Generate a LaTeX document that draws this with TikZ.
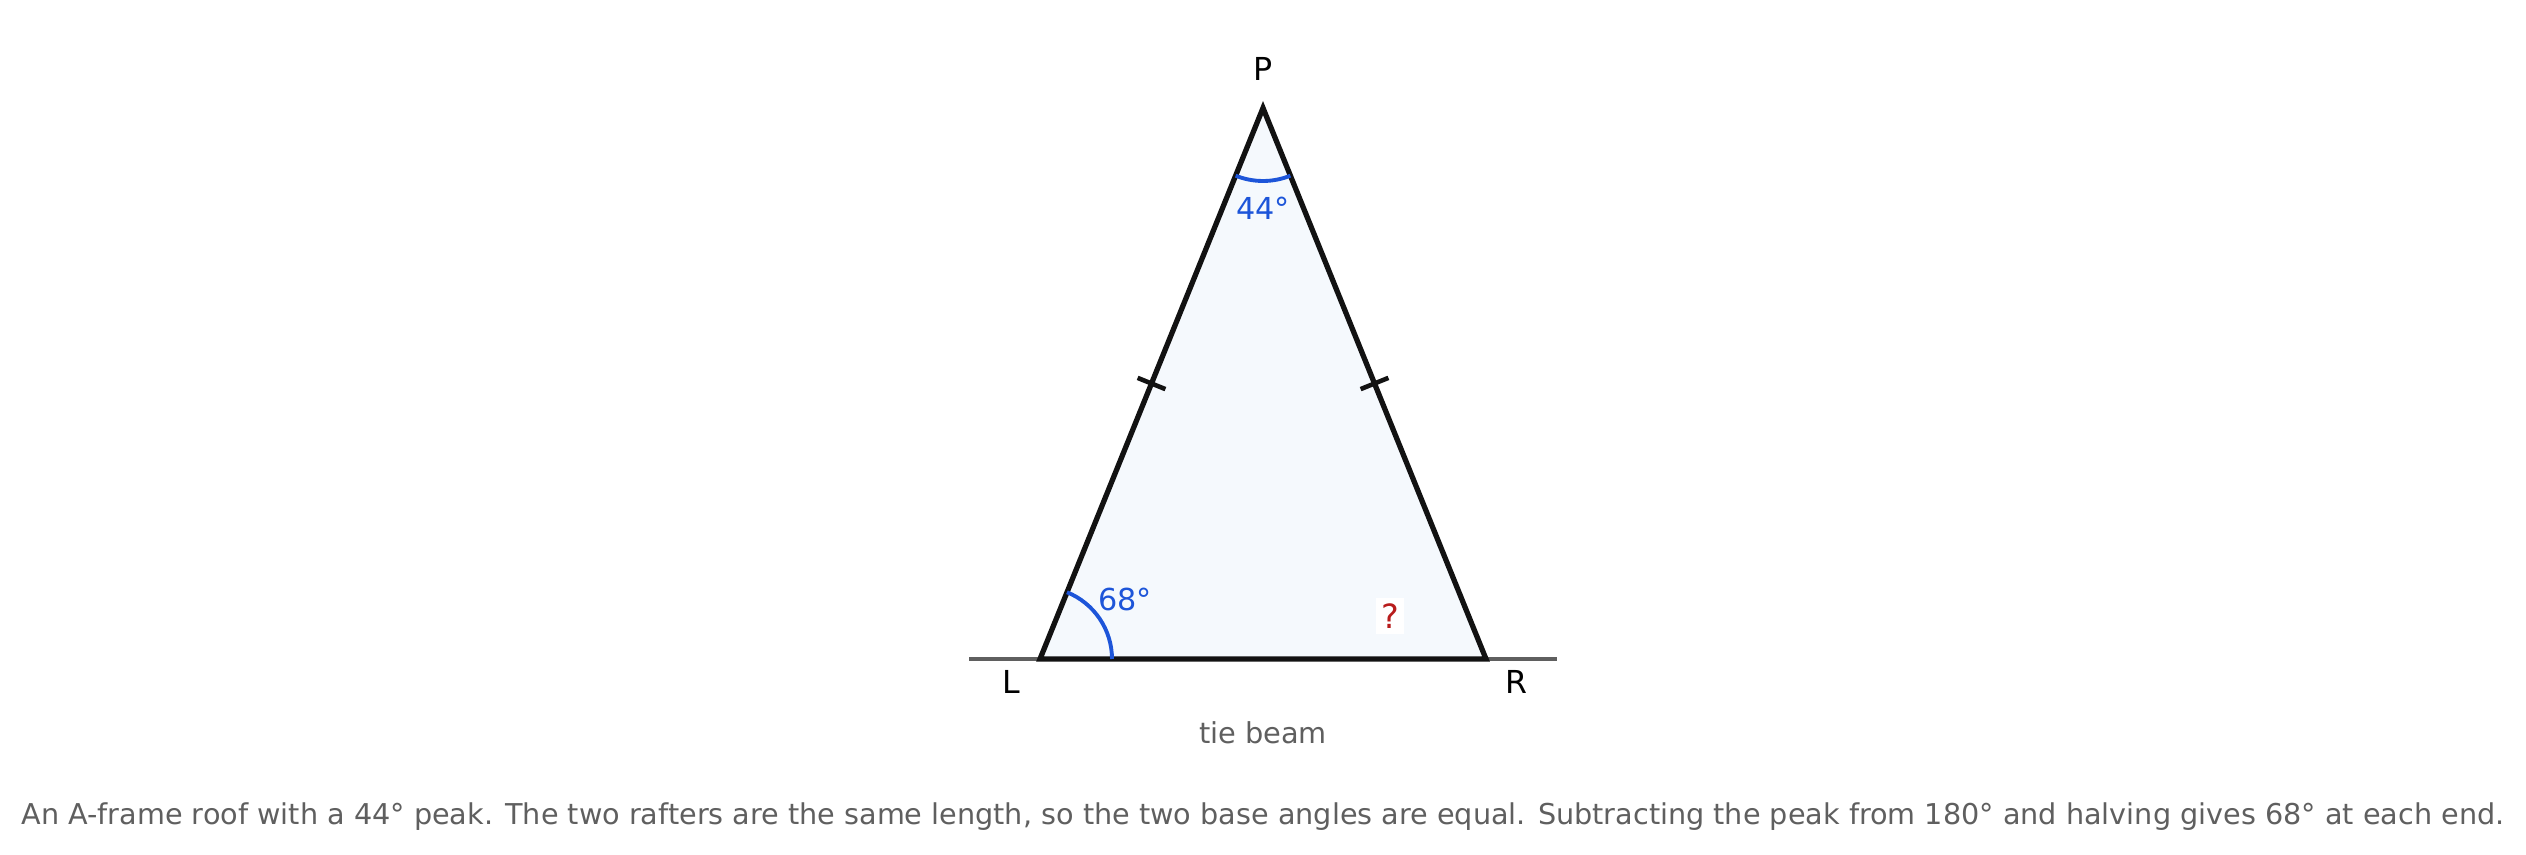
\documentclass[tikz,border=0pt]{standalone}
\usepackage{fontspec}
\setmainfont{DejaVu Sans}
\usetikzlibrary{calc, positioning, backgrounds}
\definecolor{angleblue}{HTML}{1D55D9}
\definecolor{askred}{HTML}{B81C1C}
\definecolor{notegray}{HTML}{5F5F5F}
\definecolor{roofpale}{HTML}{F5F9FD}
\tikzstyle{rafter} = [
    line width = 1.5pt,
    draw = black!93,
    line join = miter,
    fill = roofpale,
]
\tikzstyle{ground} = [
    line width = 1.1pt,
    draw = notegray,
]
\tikzstyle{tickmark} = [
    line width = 1.3pt,
    draw = black!93,
]
\tikzstyle{anglearc} = [
    line width = 1.1pt,
    draw = angleblue,
]
\tikzstyle{vertexlabel} = [
    font = \fontsize{9}{11}\selectfont,
    text = black,
    inner sep = 0pt,
]
\tikzstyle{anglelabel} = [
    font = \fontsize{8.6}{10}\selectfont,
    text = angleblue,
    inner sep = 0pt,
]

\begin{document}
\begin{tikzpicture}
    \useasboundingbox (0, 0) rectangle (25.26, 8.54);

    \coordinate (L) at (10.40, 1.95);
    \coordinate (R) at (14.86, 1.95);
    \coordinate (P) at (12.63, 7.46);

    % beam line under the frame
    \coordinate (BeamLeft) at (9.69, 1.95);
    \coordinate (BeamRight) at (15.57, 1.95);
    \draw[ground] (BeamLeft) -- (BeamRight);

    \draw[rafter] (L) -- (P) -- (R) -- cycle;

    % equal rafters
    \coordinate (MidLeft) at ($(L)!0.5!(P)$);
    \coordinate (MidRight) at ($(R)!0.5!(P)$);
    \draw[tickmark] ($(MidLeft)!0.15cm!90:(P)$) -- ($(MidLeft)!0.15cm!-90:(P)$);
    \draw[tickmark] ($(MidRight)!0.15cm!90:(P)$) -- ($(MidRight)!0.15cm!-90:(P)$);

    % angles
    \draw[anglearc] ($(P) + (248:0.73)$) arc[start angle = 248, end angle = 292, radius = 0.73];
    \draw[anglearc] ($(L) + (0.72, 0)$) arc[start angle = 0, end angle = 68, radius = 0.72];

    \node (LabelP) [vertexlabel, above = 0.27cm of P] {P};
    \node (LabelL) [vertexlabel, below left = 0.11cm and 0.19cm of L] {L};
    \node (LabelR) [vertexlabel, below right = 0.11cm and 0.19cm of R] {R};

    \node (Peak) [anglelabel, below = 0.88cm of P] {44°};
    \node (Base) [anglelabel] at (11.25, 2.55) {68°};
    \node (Ask) [fill = white, text = askred, font = \fontsize{9.5}{11}\selectfont, inner sep = 1.5pt] at (13.90, 2.38) {?};

    \node (TieBeam) [text = notegray, font = \fontsize{8.2}{10}\selectfont] at (12.63, 1.21) {tie beam};
    \node (Caption) [text = notegray, font = \fontsize{8.16}{10}\selectfont] at (12.63, 0.37) {An A-frame roof with a 44° peak. The two rafters are the same length, so the two base angles are equal. Subtracting the peak from 180° and halving gives 68° at each end.};
\end{tikzpicture}
\end{document}
